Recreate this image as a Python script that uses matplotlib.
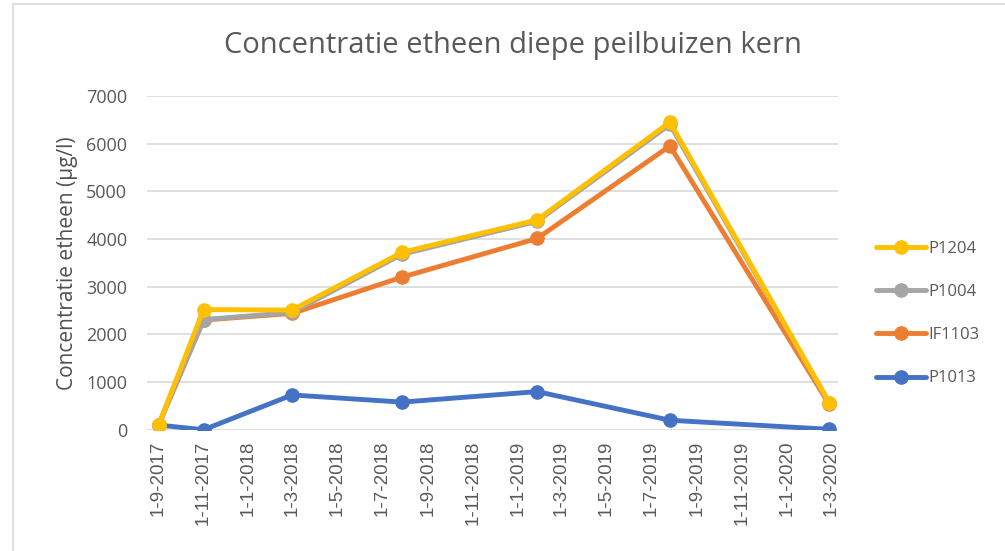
import matplotlib.pyplot as plt
import matplotlib.dates as mdates
from matplotlib.lines import Line2D
import datetime as dt

dates = [dt.date(2017, 9, 1), dt.date(2017, 11, 1), dt.date(2018, 3, 1),
         dt.date(2018, 7, 28), dt.date(2019, 1, 27), dt.date(2019, 7, 26),
         dt.date(2020, 2, 27)]
P1204 = [100, 2520, 2510, 3720, 4400, 6450, 570]
P1004 = [100, 2310, 2460, 3680, 4370, 6400, 560]
IF1103 = [100, 2300, 2440, 3200, 4010, 5950, 530]
P1013 = [100, 0, 730, 580, 800, 200, 10]

tick_dates = [dt.date(2017 + (8 + 2 * i) // 12, (8 + 2 * i) % 12 + 1, 1) for i in range(16)]
tick_labels = [f"{d.day}-{d.month}-{d.year}" for d in tick_dates]

series = [("P1013", P1013, "#4472C4"), ("IF1103", IF1103, "#ED7D31"),
          ("P1004", P1004, "#A5A5A5"), ("P1204", P1204, "#FFC000")]

plt.rcParams['font.family'] = ['Liberation Sans', 'DejaVu Sans']
fig = plt.figure(figsize=(10.05, 5.51), dpi=100)
ax = fig.add_axes([0.146, 0.220, 0.688, 0.606])

lines = {}
for name, vals, col in series:
    lines[name], = ax.plot(dates, vals, color=col, lw=3.5, marker='o', markersize=9.5,
                           solid_capstyle='round', label=name)

ax.set_ylim(0, 7000)
ax.set_yticks(range(0, 7001, 1000))
ax.set_xlim(dt.date(2017, 8, 16), dt.date(2020, 3, 10))
ax.set_xticks(tick_dates)
ax.set_xticklabels(tick_labels, rotation=90, fontsize=13.5)
ax.tick_params(colors='#595959', length=0)
ax.tick_params(axis='x', pad=8)
for lab in ax.get_yticklabels():
    lab.set_fontfamily(['Open Sans', 'DejaVu Sans'])
    lab.set_fontsize(13)
ax.tick_params(axis='y', pad=14)
ax.grid(axis='y', color='#D9D9D9', lw=1.2)
ax.set_axisbelow(True)
for s in ax.spines.values():
    s.set_visible(False)

ax.set_ylabel("Concentratie etheen (µg/l)", fontsize=15, color='#505050',
              family=['Open Sans', 'DejaVu Sans'], labelpad=6)
fig.text(0.51, 0.918, "Concentratie etheen diepe peilbuizen kern", ha='center', va='center',
         fontsize=21, color='#595959', family=['Open Sans', 'DejaVu Sans'])

order = ["P1204", "P1004", "IF1103", "P1013"]
fig.legend([lines[n] for n in order], order, loc='upper left', bbox_to_anchor=(0.857, 0.59),
           frameon=False, labelspacing=1.63, handlelength=3.0, handletextpad=0.14,
           labelcolor='#595959', prop={'family': ['Open Sans', 'DejaVu Sans'], 'size': 12})

# chart border (top and left only)
fig.add_artist(Line2D([13 / 1005, 13 / 1005, 1.0], [0.0, 1 - 4 / 551, 1 - 4 / 551],
                      color='#E0E0E0', lw=1.5, transform=fig.transFigure))

fig.savefig("out.png", dpi=100)
